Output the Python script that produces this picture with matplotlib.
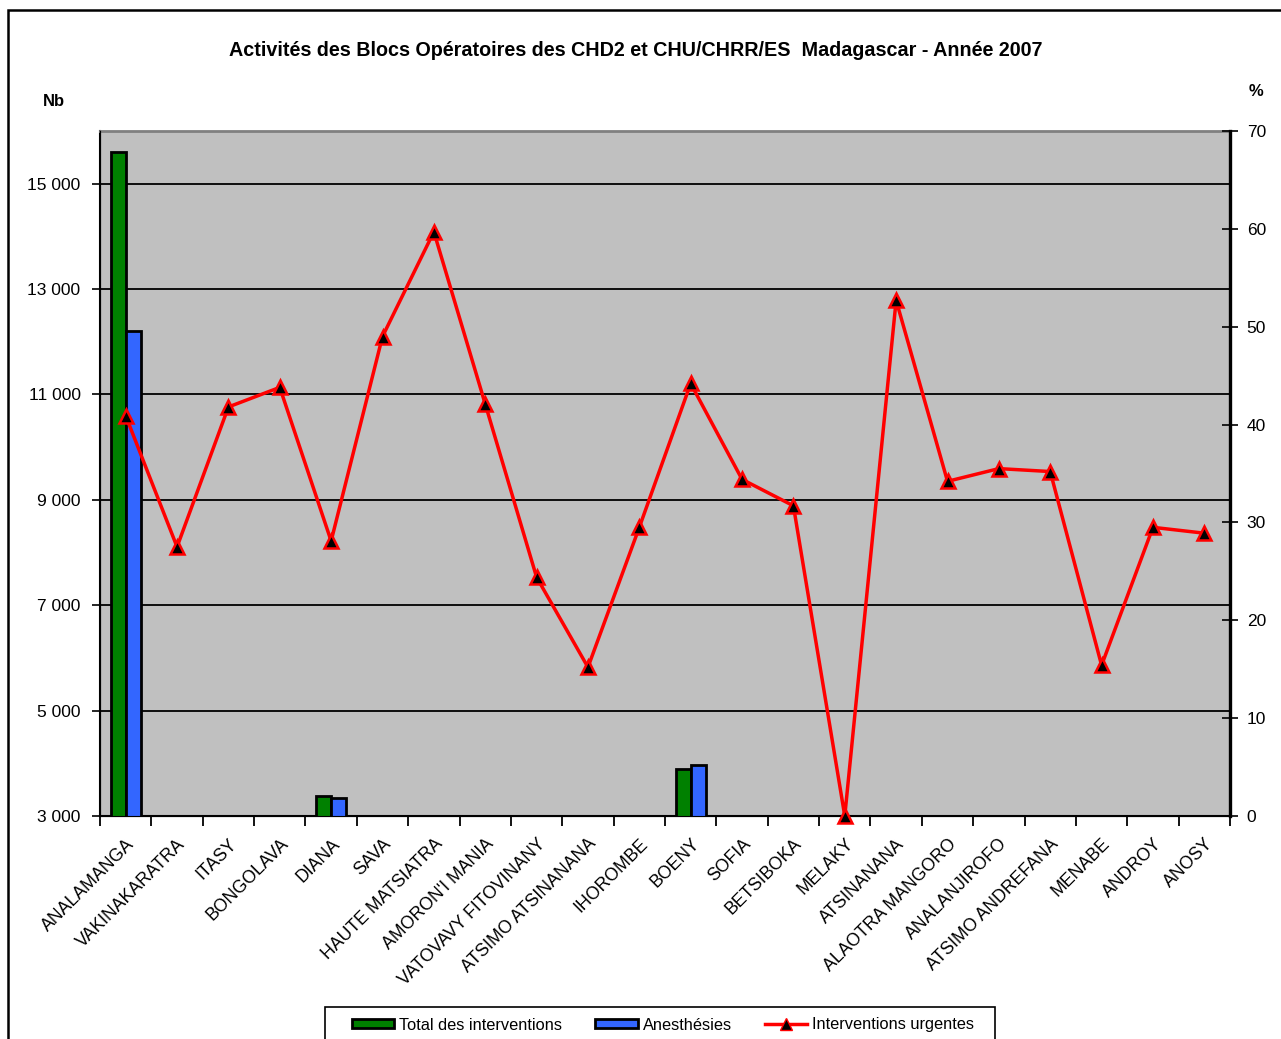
import numpy as np
import matplotlib
matplotlib.use("Agg")
import matplotlib.pyplot as plt
from matplotlib.ticker import FuncFormatter, FixedLocator
from matplotlib.patches import Rectangle, Patch
from matplotlib.lines import Line2D

plt.rcParams['font.family'] = ['Liberation Sans', 'DejaVu Sans']

regions = ["ANALAMANGA", "VAKINAKARATRA", "ITASY", "BONGOLAVA", "DIANA", "SAVA",
           "HAUTE MATSIATRA", "AMORON'I MANIA", "VATOVAVY FITOVINANY",
           "ATSIMO ATSINANANA", "IHOROMBE", "BOENY", "SOFIA", "BETSIBOKA",
           "MELAKY", "ATSINANANA", "ALAOTRA MANGORO", "ANALANJIROFO",
           "ATSIMO ANDREFANA", "MENABE", "ANDROY", "ANOSY"]
total_interventions = [15600, np.nan, np.nan, np.nan, 3380, np.nan, np.nan, np.nan,
                       np.nan, np.nan, np.nan, 3900, np.nan, np.nan, np.nan, np.nan,
                       np.nan, np.nan, np.nan, np.nan, np.nan, np.nan]
anesthesies = [12200, np.nan, np.nan, np.nan, 3340, np.nan, np.nan, np.nan,
               np.nan, np.nan, np.nan, 3960, np.nan, np.nan, np.nan, np.nan,
               np.nan, np.nan, np.nan, np.nan, np.nan, np.nan]
urgentes_pct = [40.9, 27.5, 41.8, 43.8, 28.1, 49.0, 59.7, 42.1, 24.4, 15.2, 29.5,
                44.2, 34.4, 31.7, 0.0, 52.7, 34.2, 35.5, 35.2, 15.4, 29.5, 28.9]
left_ticks = [3000, 5000, 7000, 9000, 11000, 13000, 15000]
right_ticks = [0, 10, 20, 30, 40, 50, 60, 70]

W, H = 1281, 1039
fig = plt.figure(figsize=(W / 100, H / 100), dpi=100)
fig.patch.set_facecolor('white')

# outer chart border
fig.add_artist(Rectangle((8 / W, -0.05), 1.2, 1 - 10 / H + 0.05, transform=fig.transFigure,
                         fill=False, edgecolor='black', linewidth=1.8))

ax = fig.add_axes([100 / W, 1 - 816 / H, (1230 - 100) / W, (816 - 131) / H])
ax.set_facecolor('#C0C0C0')
x = np.arange(len(regions))
ax.bar(x - 0.145, total_interventions, width=0.29, color='#008000', edgecolor='black',
       linewidth=2, zorder=3)
ax.bar(x + 0.145, anesthesies, width=0.29, color='#3366FF', edgecolor='black',
       linewidth=2, zorder=3)
ax.set_ylim(3000, 16000)
ax.set_xlim(-0.5, len(regions) - 0.5)
ax.yaxis.set_major_locator(FixedLocator(left_ticks))
ax.yaxis.set_major_formatter(FuncFormatter(lambda v, p: f"{int(v):,}".replace(",", " ")))
for t in left_ticks[1:]:
    ax.axhline(t, color='black', linewidth=1.3, zorder=1)
ax.tick_params(axis='y', direction='out', length=6, width=1.2, labelsize=12.5, pad=8)
ax.set_xticks(x)
ax.set_xticklabels(regions, rotation=45, ha='right', va='top', rotation_mode='anchor',
                   fontsize=12.7)
ax.tick_params(axis='x', length=0, pad=14)
ax.set_xticks(np.arange(-0.5, len(regions) + 0.5, 1), minor=True)
ax.tick_params(axis='x', which='minor', direction='out', length=7, width=1.3)
for s in ['left', 'bottom']:
    ax.spines[s].set_linewidth(1.5)
ax.spines['top'].set_color('#808080')
ax.spines['top'].set_linewidth(2)

ax2 = ax.twinx()
ax2.plot(x, urgentes_pct, color='#FF0000', linewidth=2.5, marker='^', markersize=9.5,
         markerfacecolor='black', markeredgecolor='#FF0000', markeredgewidth=1.8,
         zorder=5, clip_on=False)
ax2.set_ylim(0, 70)
ax2.yaxis.set_major_locator(FixedLocator(right_ticks))
ax2.tick_params(axis='y', direction='inout', length=12, width=1.2, labelsize=12.5, pad=6)
ax2.spines['right'].set_linewidth(2.4)
ax2.spines['top'].set_visible(False)

fig.text(636 / W, 1 - 51 / H, "Activités des Blocs Opératoires des CHD2 et CHU/CHRR/ES  Madagascar - Année 2007",
         ha='center', va='center', fontsize=14.2, fontweight='bold')
fig.text(54 / W, 1 - 101 / H, "Nb", ha='center', va='center', fontsize=12, fontweight='bold')
fig.text(1256 / W, 1 - 91 / H, "%", ha='center', va='center', fontsize=12, fontweight='bold')

# legend
fig.add_artist(Rectangle((325 / W, -0.05), (995 - 325) / W, 1 - 1007 / H + 0.05,
                         transform=fig.transFigure, fill=False, edgecolor='black',
                         linewidth=1.2))
handles = [Patch(facecolor='#008000', edgecolor='black', linewidth=2),
           Patch(facecolor='#3366FF', edgecolor='black', linewidth=2),
           Line2D([0], [0], color='#FF0000', linewidth=2.5, marker='^', markersize=8,
                  markerfacecolor='black', markeredgecolor='#FF0000')]
labels = ["Total des interventions", "Anesthésies", "Interventions urgentes"]
fig.legend(handles, labels, loc='center', bbox_to_anchor=(663 / W, 1 - 1025 / H),
           ncol=3, frameon=False, fontsize=11.8, handlelength=2.6, handleheight=0.5,
           handletextpad=0.3, columnspacing=2.0)

fig.savefig("out.png", dpi=100)
